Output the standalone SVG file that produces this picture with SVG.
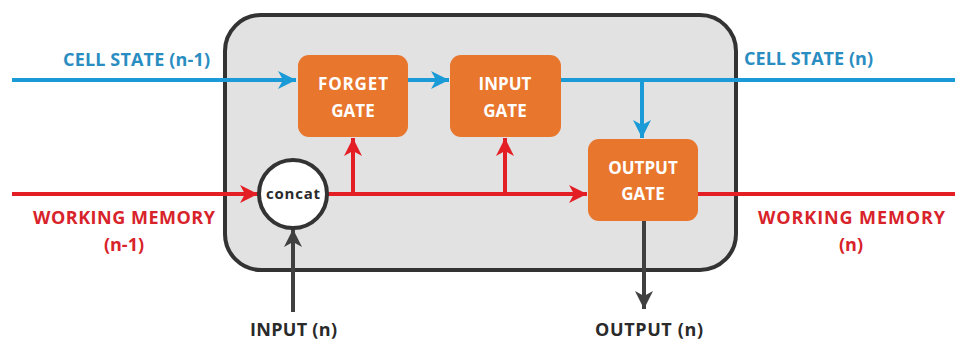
<svg xmlns="http://www.w3.org/2000/svg" width="955" height="342" viewBox="0 0 955 342">
<style>
.lbl{font-family:"Open Sans","Liberation Sans",sans-serif;font-weight:700;font-size:18px}
.blue{fill:#2a8dc2}
.red{fill:#d8232a}
.dark{fill:#2a2a2a}
.gt{fill:#ffffff;font-family:"Open Sans","Liberation Sans",sans-serif;font-weight:700;font-size:17px;text-anchor:middle}
.gate{fill:#e8762d}
.lb{stroke:#1a9ad6;stroke-width:4;fill:none}
.lr{stroke:#e31e24;stroke-width:4;fill:none}
.ld{stroke:#404040;stroke-width:4;fill:none}
</style>
<defs>
<marker id="ab" markerUnits="userSpaceOnUse" markerWidth="20" markerHeight="20" refX="18" refY="10" orient="auto"><path d="M0,1 L18,10 L0,19 L5,10 z" fill="#1a9ad6"/></marker>
<marker id="ar" markerUnits="userSpaceOnUse" markerWidth="20" markerHeight="20" refX="18" refY="10" orient="auto"><path d="M0,1 L18,10 L0,19 L5,10 z" fill="#e31e24"/></marker>
<marker id="ad" markerUnits="userSpaceOnUse" markerWidth="20" markerHeight="20" refX="18" refY="10" orient="auto"><path d="M0,1 L18,10 L0,19 L5,10 z" fill="#404040"/></marker>
</defs>
<rect width="955" height="342" fill="#ffffff"/>
<g id="cell">
<rect x="225" y="15" width="511" height="255" rx="36" fill="#e2e2e2" stroke="#333333" stroke-width="4"/>
</g>
<g id="connectors">
<path class="lb" d="M12,80 H296" marker-end="url(#ab)"/>
<path class="lb" d="M408,80 H449" marker-end="url(#ab)"/>
<path class="lb" d="M561,80 H955"/>
<path class="lb" d="M642,80 V138" marker-end="url(#ab)"/>
<path class="lr" d="M12,194 H258" marker-end="url(#ar)"/>
<path class="lr" d="M327,194 H587" marker-end="url(#ar)"/>
<path class="lr" d="M353,194 V138" marker-end="url(#ar)"/>
<path class="lr" d="M505,194 V138" marker-end="url(#ar)"/>
<path class="lr" d="M698,194 H955"/>
<path class="ld" d="M293,312 V229" marker-end="url(#ad)"/>
<path class="ld" d="M644,221 V309" marker-end="url(#ad)"/>
</g>
<g id="forget">
<rect class="gate" x="298" y="55" width="110" height="82" rx="11"/>
<text class="gt" x="353" y="90" textLength="70">FORGET</text>
<text class="gt" x="353" y="117">GATE</text>
</g>
<g id="input">
<rect class="gate" x="450" y="55" width="111" height="82" rx="11"/>
<text class="gt" x="505" y="90">INPUT</text>
<text class="gt" x="505" y="117">GATE</text>
</g>
<g id="output">
<rect class="gate" x="588" y="139" width="110" height="82" rx="11"/>
<text class="gt" x="643" y="174">OUTPUT</text>
<text class="gt" x="643" y="200">GATE</text>
</g>
<g id="concat">
<circle cx="293" cy="194" r="34" fill="#ffffff" stroke="#333333" stroke-width="4"/>
<text x="293" y="199" text-anchor="middle" class="dark" font-family="Open Sans, Liberation Sans, sans-serif" font-weight="700" font-size="15" textLength="54">concat</text>
</g>
<g id="labels">
<text class="lbl blue" x="63" y="66" textLength="147">CELL STATE (n-1)</text>
<text class="lbl blue" x="744" y="65" textLength="129">CELL STATE (n)</text>
<text class="lbl red" x="33" y="224" textLength="182">WORKING MEMORY</text>
<text class="lbl red" x="124" y="251" text-anchor="middle">(n-1)</text>
<text class="lbl red" x="758" y="224" textLength="187">WORKING MEMORY</text>
<text class="lbl red" x="851" y="251" text-anchor="middle">(n)</text>
<text class="lbl dark" x="250" y="336" textLength="87">INPUT (n)</text>
<text class="lbl dark" x="595" y="336" textLength="108">OUTPUT (n)</text>
</g>
</svg>
